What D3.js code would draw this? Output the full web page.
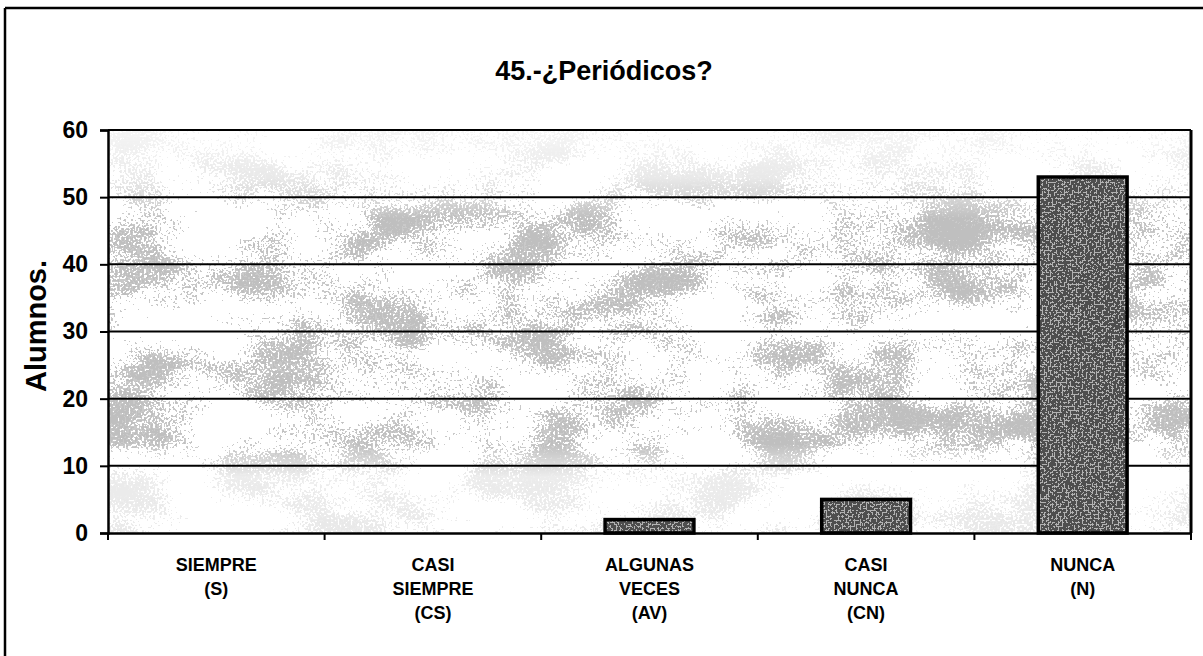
<!DOCTYPE html>
<html>
<head>
<meta charset="utf-8">
<script src="https://cdn.jsdelivr.net/npm/d3@7"></script>
<style>
  html, body { margin: 0; padding: 0; background: #fff; }
  svg { display: block; }
  text { font-family: "Liberation Sans", Arial, sans-serif; font-weight: bold; fill: #000; }
</style>
</head>
<body>
<svg id="chart" width="1203" height="656"></svg>
<script>
const title = "45.-¿Periódicos?";
const yLabel = "Alumnos.";
const categories = ["SIEMPRE (S)", "CASI SIEMPRE (CS)", "ALGUNAS VECES (AV)", "CASI NUNCA (CN)", "NUNCA (N)"];
const values = [0, 0, 2, 5, 53];
const yTicks = [0, 10, 20, 30, 40, 50, 60];

const svg = d3.select("#chart");
const W = 1203, H = 656;
const m = { left: 108, right: 1191, top: 130, bottom: 533 };

const defs = svg.append("defs");
// scan-like speckle texture for the plot background
const f = defs.append("filter").attr("id", "speckle")
  .attr("x", 0).attr("y", 0).attr("width", 1).attr("height", 1)
  .attr("filterUnits", "objectBoundingBox");
f.append("feTurbulence").attr("type", "fractalNoise").attr("baseFrequency", "0.45")
  .attr("numOctaves", 1).attr("seed", 4).attr("result", "fine");
f.append("feColorMatrix").attr("in", "fine").attr("type", "matrix")
  .attr("values", "1 0 0 0 0  1 0 0 0 0  1 0 0 0 0  0 0 0 0 1").attr("result", "fineG");
f.append("feTurbulence").attr("type", "fractalNoise").attr("baseFrequency", "0.012 0.02")
  .attr("numOctaves", 3).attr("seed", 11).attr("result", "coarse");
f.append("feColorMatrix").attr("in", "coarse").attr("type", "matrix")
  .attr("values", "1 0 0 0 0  1 0 0 0 0  1 0 0 0 0  0 0 0 0 1").attr("result", "coarseG");
f.append("feComposite").attr("in", "fineG").attr("in2", "coarseG").attr("operator", "arithmetic")
  .attr("k1", 0).attr("k2", 1).attr("k3", 1.1).attr("k4", -0.38).attr("result", "sum");
f.append("feColorMatrix").attr("in", "sum").attr("type", "matrix")
  .attr("values", "0 0 0 0 0.52  0 0 0 0 0.52  0 0 0 0 0.52  1 0 0 0 0").attr("result", "alphaMap");
const ct = f.append("feComponentTransfer").attr("in", "alphaMap");
ct.append("feFuncA").attr("type", "discrete").attr("tableValues", "0 0 0 0 0 0 0.85 1");

// vertical density mask: speckles concentrate in the middle band
const grad = defs.append("linearGradient").attr("id", "densGrad")
  .attr("x1", 0).attr("x2", 0).attr("y1", 0).attr("y2", 1);
[[0, 0.15], [0.12, 0.35], [0.22, 1], [0.78, 1], [0.86, 0.3], [1, 0.35]].forEach(s => {
  grad.append("stop").attr("offset", s[0]).attr("stop-color", "#fff").attr("stop-opacity", s[1]);
});
const mask = defs.append("mask").attr("id", "densMask");
mask.append("rect").attr("x", m.left).attr("y", m.top)
  .attr("width", m.right - m.left).attr("height", m.bottom - m.top).attr("fill", "url(#densGrad)");

// darker texture for the bars
const fb = defs.append("filter").attr("id", "barTex")
  .attr("x", 0).attr("y", 0).attr("width", 1).attr("height", 1);
fb.append("feTurbulence").attr("type", "fractalNoise").attr("baseFrequency", "0.5")
  .attr("numOctaves", 1).attr("seed", 2).attr("result", "n");
fb.append("feColorMatrix").attr("in", "n").attr("type", "matrix")
  .attr("values", "0 0 0 0 0.55  0 0 0 0 0.55  0 0 0 0 0.55  1.6 0 0 0 -0.35").attr("result", "a");
const ctb = fb.append("feComponentTransfer").attr("in", "a");
ctb.append("feFuncA").attr("type", "discrete").attr("tableValues", "0 0 1 1");

// outer chart border (scan frame)
svg.append("line").attr("x1", 5).attr("x2", W).attr("y1", 8).attr("y2", 8)
  .attr("stroke", "#000").attr("stroke-width", 2.5);
svg.append("line").attr("x1", 5).attr("x2", 5).attr("y1", 8).attr("y2", H)
  .attr("stroke", "#000").attr("stroke-width", 2.5);

const x = d3.scaleBand().domain(categories).range([m.left, m.right])
  .paddingInner(0.59).paddingOuter(0.295);
const y = d3.scaleLinear().domain([0, 60]).range([m.bottom, m.top]);

// plot background
svg.append("rect").attr("x", m.left).attr("y", m.top)
  .attr("width", m.right - m.left).attr("height", m.bottom - m.top).attr("fill", "#fff");
svg.append("g").attr("mask", "url(#densMask)")
  .append("rect").attr("x", m.left).attr("y", m.top)
  .attr("width", m.right - m.left).attr("height", m.bottom - m.top)
  .attr("fill", "#fff").attr("filter", "url(#speckle)");

// gridlines
svg.append("g").selectAll("line").data(yTicks.filter(d => d > 0)).join("line")
  .attr("x1", m.left).attr("x2", m.right)
  .attr("y1", d => y(d)).attr("y2", d => y(d))
  .attr("stroke", "#000").attr("stroke-width", 2);

// bars
const bars = svg.append("g");
bars.selectAll("rect.base").data(values).join("rect").attr("class", "base")
  .attr("x", (d, i) => x(categories[i]))
  .attr("y", d => y(d))
  .attr("width", x.bandwidth())
  .attr("height", d => y(0) - y(d))
  .attr("fill", "#4e4e4e");
bars.selectAll("rect.tex").data(values).join("rect").attr("class", "tex")
  .attr("x", (d, i) => x(categories[i]))
  .attr("y", d => y(d))
  .attr("width", x.bandwidth())
  .attr("height", d => y(0) - y(d))
  .attr("fill", "#fff").attr("filter", "url(#barTex)").attr("opacity", 0.85);
bars.selectAll("rect.edge").data(values).join("rect").attr("class", "edge")
  .attr("x", (d, i) => x(categories[i]))
  .attr("y", d => y(d))
  .attr("width", x.bandwidth())
  .attr("height", d => y(0) - y(d))
  .attr("fill", "none").attr("stroke", "#000").attr("stroke-width", 3.5);

// plot frame (top and right)
svg.append("line").attr("x1", m.left).attr("x2", m.right).attr("y1", m.top).attr("y2", m.top)
  .attr("stroke", "#000").attr("stroke-width", 2);
svg.append("line").attr("x1", m.right).attr("x2", m.right).attr("y1", m.top).attr("y2", m.bottom)
  .attr("stroke", "#000").attr("stroke-width", 3);

// y axis
const yAxis = svg.append("g").attr("transform", `translate(${m.left},0)`)
  .call(d3.axisLeft(y).tickValues(yTicks).tickSize(8).tickPadding(12).tickFormat(d3.format("d")));
yAxis.select(".domain").attr("stroke", "#000").attr("stroke-width", 2.5);
yAxis.selectAll(".tick line").attr("stroke", "#000").attr("stroke-width", 2);
yAxis.selectAll(".tick text").style("font-size", "23px").style("font-weight", "bold")
  .style("font-family", "'Liberation Sans', Arial, sans-serif").attr("fill", "#000");

// x axis baseline and boundary ticks
const xAxis = svg.append("g").attr("transform", `translate(0,${m.bottom})`)
  .call(d3.axisBottom(x).tickSize(0).tickFormat(""));
xAxis.select(".domain").attr("stroke", "#000").attr("stroke-width", 2.5);
const bounds = categories.map(c => x(c) - x.step() * x.paddingOuter()).concat([m.right]);
svg.append("g").selectAll("line").data(bounds).join("line")
  .attr("x1", d => d).attr("x2", d => d)
  .attr("y1", m.bottom).attr("y2", m.bottom + 7)
  .attr("stroke", "#000").attr("stroke-width", 2);

// category labels
const lab = svg.append("g");
categories.forEach(c => {
  const t = lab.append("text").attr("text-anchor", "middle")
    .attr("x", x(c) + x.bandwidth() / 2).attr("y", 571)
    .style("font-size", "18px");
  c.split(" ").forEach((w, i) => {
    t.append("tspan").attr("x", x(c) + x.bandwidth() / 2).attr("dy", i === 0 ? 0 : 24).text(w);
  });
});

// title
svg.append("text").attr("x", 604).attr("y", 80).attr("text-anchor", "middle")
  .style("font-size", "27px").text(title);

// y label
svg.append("text").attr("transform", "translate(46,326) rotate(-90)")
  .attr("text-anchor", "middle").style("font-size", "29px").text(yLabel);
</script>
</body>
</html>
